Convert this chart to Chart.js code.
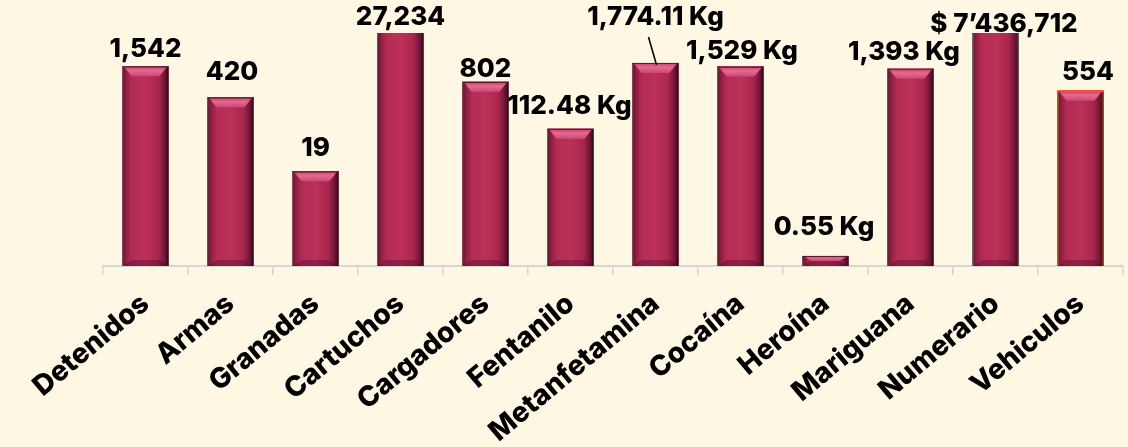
<!DOCTYPE html>
<html>
<head>
<meta charset="utf-8">
<script src="https://cdn.jsdelivr.net/npm/chart.js@4.4.1/dist/chart.umd.min.js"></script>
<style>
  html, body { margin: 0; padding: 0; background: #FEF7E3; }
  #wrap { width: 1128px; height: 447px; }
</style>
</head>
<body>
<div id="wrap"><canvas id="c" width="1128" height="447"></canvas></div>
<script>
// Categories and reported totals
const categories = ['Detenidos', 'Armas', 'Granadas', 'Cartuchos', 'Cargadores', 'Fentanilo',
  'Metanfetamina', 'Cocaína', 'Heroína', 'Mariguana', 'Numerario', 'Vehiculos'];
const values = [1542, 420, 19, 27234, 802, 112.48, 1774.11, 1529, 0.55, 1393, 7436712, 554];
const units = ['', '', '', '', '', ' Kg', ' Kg', ' Kg', ' Kg', ' Kg', '', ''];
const prefixes = ['', '', '', '', '', '', '', '', '', '', '$ ', ''];

// Logarithmic value axis range (bars above the max run off the top)
const axisMin = 0.36;
const axisMax = 6200;

// Value label placement: horizontal nudge and gap above the bar top, in px
const labelDx = [0, 1.5, 0, 0, 0, -1, 0, 1.5, -1.5, -6.5, 8.5, 7.5];
const labelGap = [9, 17, 15, 8, 5, 15, 0, 7, 21, 9, 1, 11];
const labelLeader = [false, false, false, false, false, false, true, false, false, false, false, false];

// Outline colours per bar
const edgeLeft = ['#6a2a3c', '#6a2a3c', '#6a2a3c', '#6a2a3c', '#6a2a3c', '#6a2a3c', '#6a2a3c', '#6a2a3c', '#6a2a3c', '#6a2a3c', '#3d6b5b', '#b4521f'];
const edgeRight = ['#3a0a18', '#3a0a18', '#3a0a18', '#3a0a18', '#3a0a18', '#3a0a18', '#3a0a18', '#3a0a18', '#3a0a18', '#3a0a18', '#2f4a40', '#8a3a16'];
const edgeTop = ['#5c1a2e', '#5c1a2e', '#5c1a2e', '#5c1a2e', '#5c1a2e', '#5c1a2e', '#5c1a2e', '#5c1a2e', '#5c1a2e', '#5c1a2e', '#5c1a2e', '#ff4a1a'];

const FONT = 'Inter, "Open Sans", "DejaVu Sans", sans-serif';

function formatValue(v, i) {
  let s = v.toLocaleString('en-US', { maximumFractionDigits: 2 });
  if (v >= 1e6) s = s.replace(',', '\u2019');
  return prefixes[i] + s + units[i];
}

const background = {
  id: 'background',
  beforeDraw(chart) {
    const { ctx, width, height } = chart;
    ctx.save();
    ctx.fillStyle = '#FEF7E3';
    ctx.fillRect(0, 0, width, height);
    ctx.restore();
  }
};

// Bevelled, shaded look on top of each bar
const barShade = {
  id: 'barShade',
  afterDatasetsDraw(chart) {
    const { ctx, chartArea: a } = chart;
    const meta = chart.getDatasetMeta(0);
    ctx.save();
    ctx.beginPath();
    ctx.rect(a.left, a.top, a.right - a.left, a.bottom - a.top);
    ctx.clip();
    meta.data.forEach((el, i) => {
      const { x, y, base, width } = el.getProps(['x', 'y', 'base', 'width'], true);
      const L = x - width / 2, R = x + width / 2;
      const cut = y < a.top;
      const T = Math.max(y, a.top), B = base;
      const h = B - T;
      if (h <= 0) return;

      const g = ctx.createLinearGradient(L, 0, R, 0);
      g.addColorStop(0, '#5e1430');
      g.addColorStop(0.08, '#8f1f42');
      g.addColorStop(0.2, '#b42b53');
      g.addColorStop(0.5, '#bd3058');
      g.addColorStop(0.78, '#a9264d');
      g.addColorStop(0.9, '#78173a');
      g.addColorStop(1, '#3e0a1a');
      ctx.fillStyle = g;
      ctx.fillRect(L, T, width, h);

      const bv = Math.min(10, h / 2);
      const inset = Math.min(9, width / 4);
      if (!cut) {
        const tg = ctx.createLinearGradient(0, T, 0, T + bv);
        tg.addColorStop(0, '#c8406a');
        tg.addColorStop(0.45, '#e46a90');
        tg.addColorStop(1, '#cb4872');
        ctx.fillStyle = tg;
        ctx.beginPath();
        ctx.moveTo(L + 1, T);
        ctx.lineTo(R - 1, T);
        ctx.lineTo(R - inset, T + bv);
        ctx.lineTo(L + inset, T + bv);
        ctx.closePath();
        ctx.fill();
      }
      // bottom bevel
      const bb = Math.min(6, h / 2);
      ctx.fillStyle = 'rgba(60,8,25,0.35)';
      ctx.beginPath();
      ctx.moveTo(L + inset, B - bb);
      ctx.lineTo(R - inset, B - bb);
      ctx.lineTo(R - 1, B);
      ctx.lineTo(L + 1, B);
      ctx.closePath();
      ctx.fill();

      // outline
      ctx.lineWidth = 1.2;
      ctx.strokeStyle = edgeLeft[i];
      ctx.beginPath(); ctx.moveTo(L + 0.6, T); ctx.lineTo(L + 0.6, B); ctx.stroke();
      ctx.strokeStyle = edgeRight[i];
      ctx.beginPath(); ctx.moveTo(R - 0.6, T); ctx.lineTo(R - 0.6, B); ctx.stroke();
      if (!cut) {
        ctx.strokeStyle = edgeTop[i];
        ctx.lineWidth = i === 11 ? 2 : 1.2;
        ctx.beginPath(); ctx.moveTo(L, T + 0.6); ctx.lineTo(R, T + 0.6); ctx.stroke();
      }
    });
    ctx.restore();
  }
};

// Value labels above the bars
const valueLabels = {
  id: 'valueLabels',
  afterDraw(chart) {
    const { ctx, chartArea: a } = chart;
    const meta = chart.getDatasetMeta(0);
    ctx.save();
    ctx.font = '800 26px ' + FONT;
    ctx.fillStyle = '#000';
    ctx.textAlign = 'center';
    ctx.textBaseline = 'alphabetic';
    meta.data.forEach((el, i) => {
      const top = Math.max(el.y, a.top);
      const cx = el.x + labelDx[i];
      let ty = top - labelGap[i];
      if (labelLeader[i]) {
        ty = a.top - 8;
        ctx.strokeStyle = '#000';
        ctx.lineWidth = 1.6;
        ctx.beginPath();
        ctx.moveTo(el.x - 7, a.top + 4);
        ctx.lineTo(el.x + 1, top + 2);
        ctx.stroke();
      }
      ctx.fillText(formatValue(values[i], i), cx, ty);
    });
    ctx.restore();
  }
};

new Chart(document.getElementById('c'), {
  type: 'bar',
  data: {
    labels: categories,
    datasets: [{
      data: values,
      backgroundColor: '#b82b54',
      borderWidth: 0,
      barPercentage: 0.54,
      categoryPercentage: 1.0
    }]
  },
  options: {
    responsive: false,
    animation: false,
    devicePixelRatio: 1,
    layout: { padding: { left: 103, right: 5, top: 33, bottom: 0 } },
    plugins: { legend: { display: false }, tooltip: { enabled: false } },
    scales: {
      x: {
        grid: { offset: true, drawOnChartArea: false, drawTicks: true, tickLength: 9, color: '#d6d6d6', lineWidth: 1.5 },
        border: { display: true, color: '#d6d6d6', width: 2 },
        ticks: {
          color: '#000',
          font: { family: FONT, size: 28, weight: '800' },
          minRotation: 40, maxRotation: 40, autoSkip: false, padding: 12
        },
        afterFit(scale) {
          scale.height = 181;
          scale.paddingLeft = 0;
          scale.paddingRight = 0;
        }
      },
      y: {
        type: 'logarithmic',
        display: false,
        min: axisMin,
        max: axisMax,
        bounds: 'data'
      }
    }
  },
  plugins: [background, barShade, valueLabels]
});
</script>
</body>
</html>
